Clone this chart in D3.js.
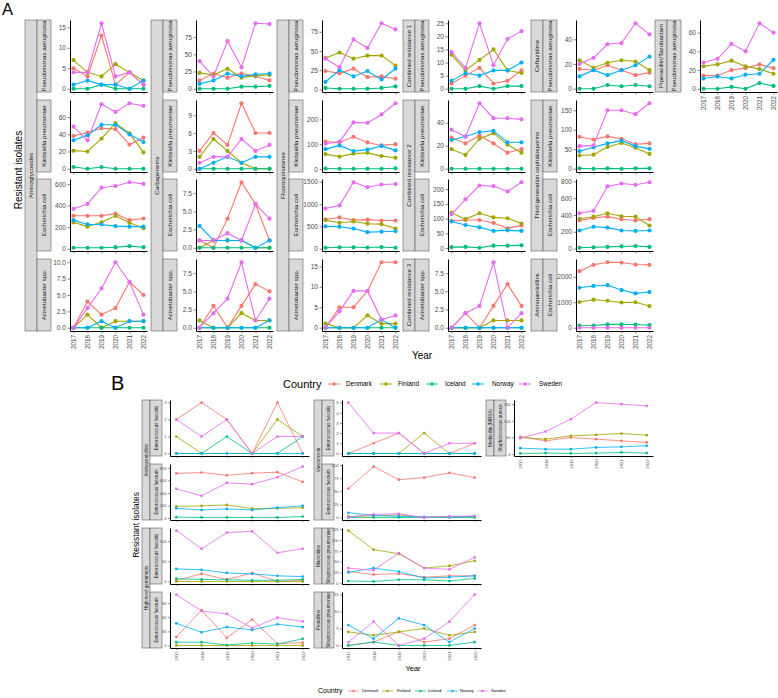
<!DOCTYPE html>
<html><head><meta charset="utf-8">
<script src="https://cdn.jsdelivr.net/npm/d3@7"></script>
<style>body{margin:0;background:#fff}svg{display:block;font-family:"Liberation Sans",Arial,Helvetica,sans-serif}</style>
</head><body><svg id="c" width="778" height="698"></svg>
<script>
// ---------- data ----------
const years = [2017, 2018, 2019, 2020, 2021, 2022];
const countries = ["Denmark", "Finland", "Iceland", "Norway", "Sweden"];
const colors = ["#F8766D", "#A3A500", "#00BF7D", "#00B0F6", "#E76BF3"];
// each array: one row per country (Denmark, Finland, Iceland, Norway, Sweden), values for 2017..2022
// Panel A
const aAmiPae = [[5,3,13,1,4,1],[7,4,3,6,4,2],[0,0,1,0,0,0],[1,2,1,1,0,2],[4,4,16,3,4,1]];
const aAmiKpn = [[38,42,47,46,28,36],[21,20,35,53,41,19],[2,0,2,0,0,0],[33,39,51,51,40,31],[49,33,75,66,76,73]];
const aAmiEco = [[305,305,305,325,265,280],[245,205,245,305,240,190],[10,10,10,15,25,15],[265,225,225,210,205,205],[370,415,565,580,615,600]];
const aAmiAci = [[0,4,2,3,7,5],[0,2,0,1,1,1],[0,0,0,0,0,0],[0,0,1,0,1,1],[0,3,6,10,7,2]];
const aCarPae = [[12,22,16,22,18,12],[23,20,29,16,19,20],[0,0,0,3,3,4],[7,12,22,18,21,22],[40,18,69,31,95,94]];
const aCarKpn = [[3,6,4,11,6,6],[2,5,3,1,0,0],[0,0,0,0,0,0],[0,1,2,1,2,2],[1,2,2,5,3,4]];
const aCarEco = [[1,0,4,9,6,1],[0,1,1,1,0,0],[0,0,0,0,0,0],[3,1,1,1,0,1],[1,1,2,1,6,4]];
const aCarAci = [[0,3,0,3,6,5],[1,0,0,2,1,1],[0,0,0,0,0,0],[0,0,0,0,0,1],[0,2,4,9,1,4]];
const aFluPae = [[24,21,27,16,17,14],[41,48,40,44,44,31],[2,1,1,1,2,4],[10,25,17,24,13,27],[40,29,65,54,86,78]];
const aFluKpn = [[110,108,130,107,95,100],[60,50,62,65,52,45],[2,1,1,1,1,3],[80,95,72,78,93,75],[102,110,188,186,220,265]];
const aFluEco = [[660,700,640,650,630,630],[640,580,610,560,550,450],[20,30,30,25,35,20],[500,490,450,370,380,390],[900,970,1490,1380,1440,1450]];
const aFluAci = [[0,5,5,9,16,16],[1,0,0,3,1,1],[0,0,0,0,0,0],[0,0,0,0,2,0],[0,4,9,9,2,3]];
const aCr1Pae = [[2,5,8,2,3,7],[13,7,11,15,7,6],[0,0,1,0,1,1],[3,6,5,7,7,10],[14,8,25,9,19,22]];
const aCr2Kpn = [[27,22,29,22,14,17],[17,12,26,31,21,14],[0,0,0,0,0,0],[25,28,32,33,23,23],[34,28,57,44,44,43]];
const aCr2Eco = [[92,95,95,85,67,76],[120,98,118,104,101,83],[3,4,1,8,8,9],[90,78,70,58,60,58],[115,165,212,210,192,223]];
const aCr3Aci = [[0,2,0,3,6,3],[0,0,0,1,1,1],[0,0,0,0,0,0],[0,0,0,0,0,0],[0,2,3,9,0,2]];
const aCazPae = [[16,15,19,15,11,13],[23,17,21,23,22,15],[0,0,3,2,3,2],[10,15,11,15,19,26],[20,25,36,37,53,44]];
const a3gcKpn = [[82,75,83,77,63,65],[34,36,56,66,54,38],[1,0,1,0,1,1],[45,55,65,72,58,51],[58,60,150,150,140,168]];
const a3gcEco = [[335,365,380,350,335,350],[355,380,420,385,380,275],[10,15,20,25,30,20],[215,260,250,215,210,215],[420,450,740,775,760,790]];
const aAmpEco = [[2220,2470,2570,2560,2480,2470],[1010,1100,1060,990,1000,850],[80,85,130,130,125,100],[1570,1640,1670,1480,1350,1400],[0,0,0,0,0,0]];
const aTzpPae = [[14,14,20,22,26,22],[24,26,30,24,21,16],[0,0,2,0,6,3],[11,13,11,15,16,31],[28,32,48,40,70,60]];
// Panel B
const bAmpEfs = [[2,3,2,0,3,0],[1,0,0,0,2,1],[0,0,1,0,0,1],[0,0,0,0,0,0],[2,1,2,0,1,1]];
const bAmpEfm = [[710,725,680,715,730,575],[185,195,210,150,155,165],[15,10,10,10,10,25],[155,130,145,130,165,195],[465,355,560,540,650,820]];
const bGenEfs = [[2,19,5,21,0,2],[0,0,0,0,0,0],[7,5,4,3,3,5],[31,29,21,19,14,12],[126,81,121,124,71,81]];
const bGenEfm = [[18,75,16,55,4,6],[0,0,0,0,0,0],[7,7,1,5,3,14],[47,28,39,33,45,39],[108,73,67,37,59,51]];
const bVanEfs = [[0,1,2,0,0,1],[0,0,0,2,0,0],[0,0,0,0,0,0],[0,0,0,0,0,0],[5,2,2,0,1,1]];
const bVanEfm = [[55,97,72,76,85,76],[2,3,5,0,1,1],[0,0,0,0,0,0],[9,4,2,1,1,2],[1,6,7,0,2,3]];
const bMacSpn = [[27,20,22,14,17,17],[122,78,68,35,40,52],[5,4,8,8,5,11],[25,35,27,12,14,17],[35,30,70,35,32,60]];
const bPenSpn = [[0,1,4,1,2,6],[4,3,4,5,3,4],[0,1,0,0,0,1],[6,2,8,6,1,5],[1,7,0,2,7,15]];
const bMrsaSau = [[52,40,50,45,40,35],[50,45,55,58,62,57],[2,3,2,3,5,3],[18,15,15,20,22,25],[48,68,105,155,150,145]];

// tick values per panel
const tA = {
  aAmiPae:[0,5,10,15], aAmiKpn:[0,20,40,60], aAmiEco:[0,200,400,600], aAmiAci:[0,2.5,5,7.5,10],
  aCarPae:[0,25,50,75], aCarKpn:[0,3,6,9], aCarEco:[0,2.5,5,7.5], aCarAci:[0,2.5,5,7.5],
  aFluPae:[0,25,50,75], aFluKpn:[0,100,200], aFluEco:[0,500,1000,1500], aFluAci:[0,5,10,15],
  aCr1Pae:[0,5,10,15,20,25], aCr2Kpn:[0,20,40], aCr2Eco:[0,50,100,150,200], aCr3Aci:[0,2.5,5,7.5],
  aCazPae:[0,20,40], a3gcKpn:[0,50,100,150], a3gcEco:[0,200,400,600,800], aAmpEco:[0,1000,2000],
  aTzpPae:[0,20,40,60]
};

// facet tables (built from the arrays above)
const panelsA = [
  {c:0,r:0,d:aAmiPae,t:tA.aAmiPae,sp:"Pseudomonas aeruginosa"},
  {c:0,r:1,d:aAmiKpn,t:tA.aAmiKpn,sp:"Klebsiella pneumoniae"},
  {c:0,r:2,d:aAmiEco,t:tA.aAmiEco,sp:"Escherichia coli"},
  {c:0,r:3,d:aAmiAci,t:tA.aAmiAci,sp:"Acinetobacter spp.",dec:1,lab:1},
  {c:1,r:0,d:aCarPae,t:tA.aCarPae,sp:"Pseudomonas aeruginosa"},
  {c:1,r:1,d:aCarKpn,t:tA.aCarKpn,sp:"Klebsiella pneumoniae"},
  {c:1,r:2,d:aCarEco,t:tA.aCarEco,sp:"Escherichia coli",dec:1},
  {c:1,r:3,d:aCarAci,t:tA.aCarAci,sp:"Acinetobacter spp.",dec:1,lab:1},
  {c:2,r:0,d:aFluPae,t:tA.aFluPae,sp:"Pseudomonas aeruginosa"},
  {c:2,r:1,d:aFluKpn,t:tA.aFluKpn,sp:"Klebsiella pneumoniae"},
  {c:2,r:2,d:aFluEco,t:tA.aFluEco,sp:"Escherichia coli"},
  {c:2,r:3,d:aFluAci,t:tA.aFluAci,sp:"Acinetobacter spp.",lab:1},
  {c:3,r:0,d:aCr1Pae,t:tA.aCr1Pae,sp:"Pseudomonas aeruginosa"},
  {c:3,r:1,d:aCr2Kpn,t:tA.aCr2Kpn,sp:"Klebsiella pneumoniae"},
  {c:3,r:2,d:aCr2Eco,t:tA.aCr2Eco,sp:"Escherichia coli"},
  {c:3,r:3,d:aCr3Aci,t:tA.aCr3Aci,sp:"Acinetobacter spp.",dec:1,lab:1},
  {c:4,r:0,d:aCazPae,t:tA.aCazPae,sp:"Pseudomonas aeruginosa"},
  {c:4,r:1,d:a3gcKpn,t:tA.a3gcKpn,sp:"Klebsiella pneumoniae"},
  {c:4,r:2,d:a3gcEco,t:tA.a3gcEco,sp:"Escherichia coli"},
  {c:4,r:3,d:aAmpEco,t:tA.aAmpEco,sp:"Escherichia coli",lab:1},
  {c:5,r:0,d:aTzpPae,t:tA.aTzpPae,sp:"Pseudomonas aeruginosa",lab:1}
];
const groupsA = [
  {c:0,r0:0,r1:3,n:"Aminoglycosides"},{c:1,r0:0,r1:3,n:"Carbapenems"},{c:2,r0:0,r1:3,n:"Fluoroquinolones"},
  {c:3,r0:0,r1:0,n:"Combined resistance 1"},{c:3,r0:1,r1:2,n:"Combined resistance 2"},{c:3,r0:3,r1:3,n:"Combined resistance 3"},
  {c:4,r0:0,r1:0,n:"Ceftazidime"},{c:4,r0:1,r1:2,n:"Third-generation cephalosporins"},{c:4,r0:3,r1:3,n:"Aminopenicillins"},
  {c:5,r0:0,r1:0,n:"Piperacillin/Tazobactam"}
];
const panelsB = [
  {c:0,r:0,d:bAmpEfs,t:[0,1,2,3],sp:"Enterococcus faecalis"},
  {c:0,r:1,d:bAmpEfm,t:[0,200,400,600,800],sp:"Enterococcus faecium"},
  {c:0,r:2,d:bGenEfs,t:[0,50,100],sp:"Enterococcus faecalis"},
  {c:0,r:3,d:bGenEfm,t:[0,30,60,90],sp:"Enterococcus faecium",lab:1},
  {c:1,r:0,d:bVanEfs,t:[0,1,2,3,4,5],sp:"Enterococcus faecalis"},
  {c:1,r:1,d:bVanEfm,t:[0,25,50,75,100],sp:"Enterococcus faecium"},
  {c:1,r:2,d:bMacSpn,t:[0,25,50,75,100,125],sp:"Streptococcus pneumoniae"},
  {c:1,r:3,d:bPenSpn,t:[0,5,10,15],sp:"Streptococcus pneumoniae",lab:1},
  {c:2,r:0,d:bMrsaSau,t:[0,50,100,150],sp:"Staphylococcus aureus",lab:1}
];
const groupsB = [
  {c:0,r0:0,r1:1,n:"Aminopenicillins"},{c:0,r0:2,r1:3,n:"High-level gentamicin"},
  {c:1,r0:0,r1:1,n:"Vancomycin"},{c:1,r0:2,r1:2,n:"Macrolides"},{c:1,r0:3,r1:3,n:"Penicillins"},
  {c:2,r0:0,r1:0,n:"Methicillin (MRSA)"}
];

// ---------- layout ----------
const geoA = {colLeft:[70,196,322,448,576,700], w:77, rowTop:[20,100,179,259], h:72,
  outerOff:45, outerW:12, innerOff:33, innerW:14, stripFont:6.1, tickFont:6.6, yearFont:6.3, tick:2.5, r:2.1, lw:1.1};
const geoB = {colLeft:[170,342,514], w:139, rowTop:[400,464,528,592], h:56,
  outerOff:28, outerW:8, innerOff:20, innerW:12, stripFont:4.6, tickFont:4.2, yearFont:4.2, tick:1.8, r:1.35, lw:0.8};

const svg = d3.select("#c");

function rotText(g, cx, cy, txt, size, color, weight){
  g.append("text").attr("transform", `translate(${cx},${cy}) rotate(-90)`)
    .attr("text-anchor","middle").attr("dy","0.35em")
    .attr("font-size", size).attr("fill", color || "#1a1a1a").text(txt);
}

function drawPanel(geo, p){
  const g = svg.append("g");
  const left = geo.colLeft[p.c], top = geo.rowTop[p.r];
  const x = d3.scaleLinear().domain([2016.75, 2022.25]).range([left, left + geo.w]);
  const all = p.d.flat();
  const mn = d3.min(all), mx = d3.max(all), pad = (mx - mn) * 0.05;
  const y = d3.scaleLinear().domain([mn - pad, mx + pad]).range([top + geo.h, top]);
  // inner strip
  g.append("rect").attr("x", left - geo.innerOff).attr("y", top).attr("width", geo.innerW).attr("height", geo.h)
    .attr("fill", "#d9d9d9").attr("stroke", "#444").attr("stroke-width", 0.5);
  rotText(g, left - geo.innerOff + geo.innerW/2, top + geo.h/2, p.sp, geo.stripFont);
  // y axis
  const fmt = p.dec ? d3.format(".1f") : d3.format("d");
  const ya = g.append("g").attr("transform", `translate(${left},0)`)
    .call(d3.axisLeft(y).tickValues(p.t).tickSize(geo.tick).tickSizeOuter(0).tickPadding(1.5).tickFormat(fmt));
  ya.select(".domain").attr("stroke", "#000").attr("stroke-width", 1);
  ya.selectAll(".tick line").attr("stroke", "#333").attr("stroke-width", 0.6);
  ya.selectAll(".tick text").attr("fill", "#4d4d4d").attr("font-size", geo.tickFont).attr("font-family", null);
  // x axis
  const xa = g.append("g").attr("transform", `translate(0,${top + geo.h})`)
    .call(d3.axisBottom(x).tickValues(years).tickSize(geo.tick).tickSizeOuter(0).tickFormat(p.lab ? d3.format("d") : ""));
  xa.select(".domain").attr("stroke", "#000").attr("stroke-width", 1);
  xa.selectAll(".tick line").attr("stroke", "#333").attr("stroke-width", 0.6);
  xa.selectAll(".tick text").attr("fill", "#4d4d4d").attr("font-size", geo.yearFont).attr("font-family", null)
    .attr("transform", "rotate(-90)").attr("text-anchor", "end")
    .attr("x", -(geo.tick + 1.5)).attr("y", 0).attr("dy", "0.35em");
  // lines then points
  const line = d3.line().x((v, i) => x(years[i])).y(v => y(v));
  p.d.forEach((s, k) => {
    g.append("path").attr("d", line(s)).attr("fill", "none").attr("stroke", colors[k]).attr("stroke-width", geo.lw);
  });
  p.d.forEach((s, k) => {
    g.selectAll(null).data(s).enter().append("circle")
      .attr("cx", (v, i) => x(years[i])).attr("cy", v => y(v)).attr("r", geo.r).attr("fill", colors[k]);
  });
}

function drawGroups(geo, groups){
  groups.forEach(gr => {
    const left = geo.colLeft[gr.c];
    const y0 = geo.rowTop[gr.r0], y1 = geo.rowTop[gr.r1] + geo.h;
    svg.append("rect").attr("x", left - geo.outerOff).attr("y", y0).attr("width", geo.outerW).attr("height", y1 - y0)
      .attr("fill", "#d9d9d9").attr("stroke", "#444").attr("stroke-width", 0.5);
    rotText(svg, left - geo.outerOff + geo.outerW/2, (y0 + y1)/2, gr.n, geo.stripFont);
  });
}

drawGroups(geoA, groupsA);
panelsA.forEach(p => drawPanel(geoA, p));
drawGroups(geoB, groupsB);
panelsB.forEach(p => drawPanel(geoB, p));

// titles
svg.append("text").attr("x", 2).attr("y", 15).attr("font-size", 16.5).attr("fill", "#000").text("A");
svg.append("text").attr("x", 111).attr("y", 390).attr("font-size", 20).attr("fill", "#000").text("B");
rotText(svg, 18, 170, "Resistant isolates", 10, "#000");
rotText(svg, 136, 525, "Resistant isolates", 8.4, "#000");
svg.append("text").attr("x", 422).attr("y", 358.5).attr("text-anchor","middle").attr("font-size", 10).attr("fill","#000").text("Year");
svg.append("text").attr("x", 413).attr("y", 671).attr("text-anchor","middle").attr("font-size", 7.5).attr("fill","#000").text("Year");

// legends
function legend(x0, yc, titleSize, itemSize, keyW, keyXs, textXs, r, lw){
  svg.append("text").attr("x", x0).attr("y", yc).attr("dy","0.35em").attr("font-size", titleSize).attr("fill","#000").text("Country");
  countries.forEach((c, k) => {
    svg.append("line").attr("x1", keyXs[k]).attr("x2", keyXs[k] + keyW).attr("y1", yc).attr("y2", yc)
      .attr("stroke", colors[k]).attr("stroke-width", lw);
    svg.append("circle").attr("cx", keyXs[k] + keyW/2).attr("cy", yc).attr("r", r).attr("fill", colors[k]);
    svg.append("text").attr("x", textXs[k]).attr("y", yc).attr("dy","0.35em").attr("font-size", itemSize).attr("fill","#000").text(c);
  });
}
legend(283, 384, 11, 6.4, 12, [328,380,426,472,519], [346,398,445,492,539], 1.8, 1);
legend(318, 691, 7, 4.1, 11, [348,382,415,447,477], [362,397,428,460,491], 1.2, 0.7);
</script></body></html>
